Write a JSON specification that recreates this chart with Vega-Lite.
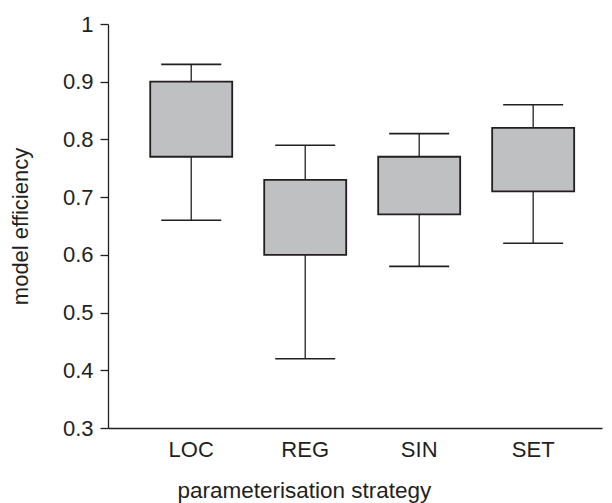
{
  "$schema": "https://vega.github.io/schema/vega-lite/v6.json",
  "width": 494,
  "height": 404,
  "autosize": {"type": "none"},
  "padding": {"left": 108, "top": 24, "right": 10, "bottom": 75},
  "background": "white",
  "config": {
    "view": {"stroke": null},
    "font": "Liberation Sans",
    "axis": {"grid": false, "domainColor": "#231f20", "tickColor": "#231f20", "labelColor": "#231f20", "titleColor": "#231f20", "titleFontWeight": "normal", "domainWidth": 1.3, "tickWidth": 1.3}
  },
  "data": {
    "values": [
      {"strategy": "LOC", "lower": 0.66, "q1": 0.77, "q3": 0.9, "upper": 0.93},
      {"strategy": "REG", "lower": 0.42, "q1": 0.6, "q3": 0.73, "upper": 0.79},
      {"strategy": "SIN", "lower": 0.58, "q1": 0.67, "q3": 0.77, "upper": 0.81},
      {"strategy": "SET", "lower": 0.62, "q1": 0.71, "q3": 0.82, "upper": 0.86}
    ]
  },
  "encoding": {
    "x": {
      "field": "strategy",
      "type": "nominal",
      "sort": ["LOC", "REG", "SIN", "SET"],
      "scale": {"paddingInner": 0.24, "paddingOuter": 0.287, "align": 0.61},
      "axis": {"title": "parameterisation strategy", "labelAngle": 0, "ticks": false, "labelPadding": 11, "labelFontSize": 22, "labelDx": -15, "titleFontSize": 22.5, "titlePadding": 19, "titleX": 69, "titleAnchor": "start", "titleAlign": "left"}
    }
  },
  "layer": [
    {
      "mark": {"type": "rule", "color": "#231f20", "strokeWidth": 1.3},
      "encoding": {
        "y": {"field": "lower", "type": "quantitative", "scale": {"domain": [0.3, 1], "nice": false, "zero": false},
          "axis": {"title": "model efficiency", "values": [0.3, 0.4, 0.5, 0.6, 0.7, 0.8, 0.9, 1], "format": "~g", "tickSize": 8, "labelPadding": 7, "labelFontSize": 22, "titleFontSize": 22, "titlePadding": 30}},
        "y2": {"field": "upper"}
      }
    },
    {
      "mark": {"type": "bar", "fill": "#bfc0c2", "stroke": "#231f20", "strokeWidth": 1.8, "width": 82},
      "encoding": {
        "y": {"field": "q1", "type": "quantitative"},
        "y2": {"field": "q3"}
      }
    },
    {
      "mark": {"type": "tick", "orient": "horizontal", "color": "#231f20", "size": 60, "thickness": 1.6, "opacity": 1},
      "encoding": {"y": {"field": "upper", "type": "quantitative"}}
    },
    {
      "mark": {"type": "tick", "orient": "horizontal", "color": "#231f20", "size": 60, "thickness": 1.6, "opacity": 1},
      "encoding": {"y": {"field": "lower", "type": "quantitative"}}
    }
  ]
}
